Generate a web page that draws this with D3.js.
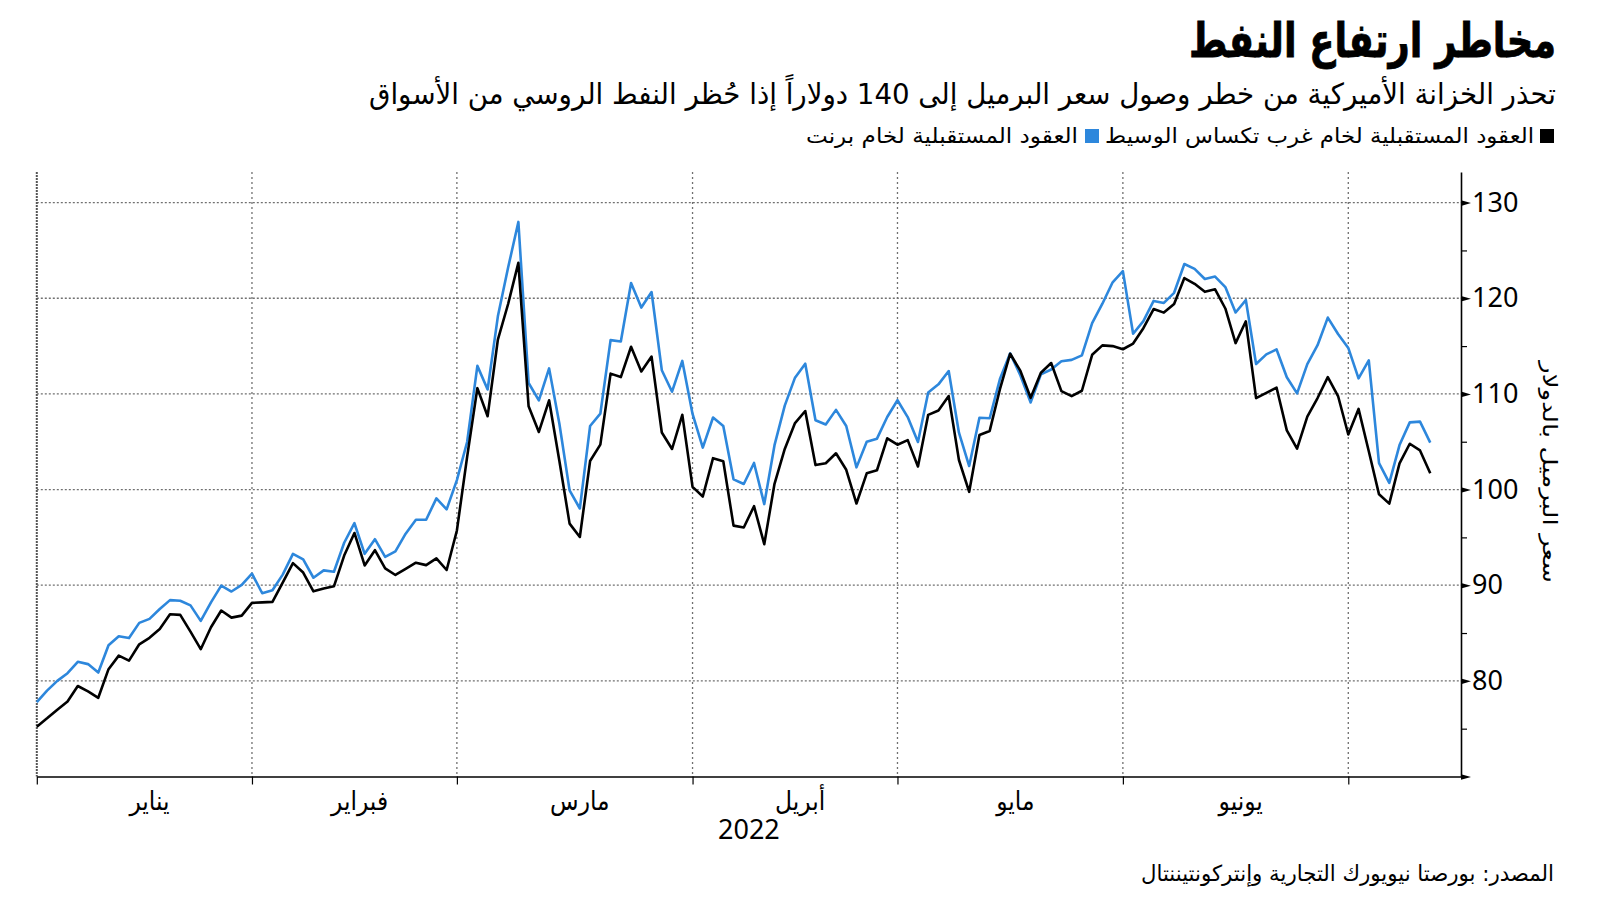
<!DOCTYPE html>
<html>
<head>
<meta charset="utf-8">
<script src="https://cdn.jsdelivr.net/npm/d3@7"></script>
<style>
body { margin: 0; background: #fff; }
svg text { font-family: "DejaVu Sans Condensed", "DejaVu Sans", sans-serif; fill: #000; }
svg .num { font-family: "Noto Sans", "DejaVu Sans", sans-serif; }
</style>
</head>
<body>
<svg id="chart"></svg>
<script>
// trading days (ICE calendar) from 31 Dec 2021 to 12 Jul 2022
var dates = [
  "2021-12-31",
  "2022-01-03","2022-01-04","2022-01-05","2022-01-06","2022-01-07","2022-01-10","2022-01-11","2022-01-12","2022-01-13","2022-01-14",
  "2022-01-17","2022-01-18","2022-01-19","2022-01-20","2022-01-21","2022-01-24","2022-01-25","2022-01-26","2022-01-27","2022-01-28","2022-01-31",
  "2022-02-01","2022-02-02","2022-02-03","2022-02-04","2022-02-07","2022-02-08","2022-02-09","2022-02-10","2022-02-11","2022-02-14",
  "2022-02-15","2022-02-16","2022-02-17","2022-02-18","2022-02-21","2022-02-22","2022-02-23","2022-02-24","2022-02-25","2022-02-28",
  "2022-03-01","2022-03-02","2022-03-03","2022-03-04","2022-03-07","2022-03-08","2022-03-09","2022-03-10","2022-03-11","2022-03-14",
  "2022-03-15","2022-03-16","2022-03-17","2022-03-18","2022-03-21","2022-03-22","2022-03-23","2022-03-24","2022-03-25","2022-03-28",
  "2022-03-29","2022-03-30","2022-03-31",
  "2022-04-01","2022-04-04","2022-04-05","2022-04-06","2022-04-07","2022-04-08","2022-04-11","2022-04-12","2022-04-13","2022-04-14",
  "2022-04-18","2022-04-19","2022-04-20","2022-04-21","2022-04-22","2022-04-25","2022-04-26","2022-04-27","2022-04-28","2022-04-29",
  "2022-05-02","2022-05-03","2022-05-04","2022-05-05","2022-05-06","2022-05-09","2022-05-10","2022-05-11","2022-05-12","2022-05-13",
  "2022-05-16","2022-05-17","2022-05-18","2022-05-19","2022-05-20","2022-05-23","2022-05-24","2022-05-25","2022-05-26","2022-05-27",
  "2022-05-30","2022-05-31",
  "2022-06-01","2022-06-02","2022-06-03","2022-06-06","2022-06-07","2022-06-08","2022-06-09","2022-06-10","2022-06-13","2022-06-14",
  "2022-06-15","2022-06-16","2022-06-17","2022-06-20","2022-06-21","2022-06-22","2022-06-23","2022-06-24","2022-06-27","2022-06-28",
  "2022-06-29","2022-06-30",
  "2022-07-01","2022-07-04","2022-07-05","2022-07-06","2022-07-07","2022-07-08","2022-07-11","2022-07-12"
];

// Brent futures, $/barrel (blue)
var brent = [
  77.78,
  78.98, 80.00, 80.80, 81.99, 81.75, 80.87, 83.72, 84.67, 84.47, 86.06,
  86.48, 87.51, 88.44, 88.38, 87.89, 86.27, 88.20, 89.96, 89.34, 90.03, 91.21,
  89.16, 89.47, 91.11, 93.27, 92.69, 90.78, 91.55, 91.41, 94.44, 96.48,
  93.28, 94.81, 92.97, 93.54, 95.39, 96.84, 96.84, 99.08, 97.93, 100.99,
  104.97, 112.93, 110.46, 118.11, 123.21, 127.98, 111.14, 109.33, 112.67, 106.90,
  99.91, 98.02, 106.64, 107.93, 115.62, 115.48, 121.60, 119.03, 120.65, 112.48,
  110.23, 113.45, 107.91,
  104.39, 107.53, 106.64, 101.07, 100.58, 102.78, 98.48, 104.64, 108.78, 111.70,
  113.16, 107.25, 106.80, 108.33, 106.65, 102.32, 104.99, 105.32, 107.59, 109.34,
  107.58, 104.97, 110.14, 111.00, 112.39, 105.94, 102.46, 107.51, 107.45, 111.55,
  114.24, 111.93, 109.11, 112.04, 112.55, 113.42, 113.56, 114.03, 117.40, 119.43,
  121.67, 122.84,
  116.29, 117.61, 119.72, 119.51, 120.57, 123.58, 123.07, 122.01, 122.27, 121.17,
  118.51, 119.81, 113.12, 114.13, 114.65, 111.74, 110.05, 113.12, 115.09, 117.98,
  116.26, 114.81,
  111.63, 113.50, 102.77, 100.69, 104.65, 107.02, 107.10, 104.90
];

// WTI futures, $/barrel (black)
var wti = [
  75.21,
  76.08, 76.99, 77.85, 79.46, 78.90, 78.23, 81.22, 82.64, 82.12, 83.82,
  84.50, 85.43, 86.96, 86.90, 85.14, 83.31, 85.60, 87.35, 86.61, 86.82, 88.15,
  88.20, 88.26, 90.27, 92.31, 91.32, 89.36, 89.66, 89.88, 93.10, 95.46,
  92.07, 93.66, 91.76, 91.07, 91.70, 92.35, 92.10, 92.81, 91.59, 95.72,
  103.41, 110.60, 107.67, 115.68, 119.40, 123.70, 108.70, 106.02, 109.33, 103.01,
  96.44, 95.04, 102.98, 104.70, 112.12, 111.76, 114.93, 112.34, 113.90, 105.96,
  104.24, 107.82, 100.28,
  99.27, 103.28, 102.96, 96.23, 96.03, 98.26, 94.29, 100.60, 104.25, 106.95,
  108.21, 102.56, 102.75, 103.79, 102.07, 98.54, 101.70, 102.02, 105.36, 104.69,
  105.17, 102.41, 107.81, 108.26, 109.77, 103.09, 99.76, 105.71, 106.13, 110.49,
  114.20, 112.40, 109.59, 112.21, 113.23, 110.29, 109.77, 110.33, 114.09, 115.07,
  115.00, 114.67,
  115.26, 116.87, 118.87, 118.50, 119.41, 122.11, 121.51, 120.67, 120.93, 118.93,
  115.31, 117.59, 109.56, 110.10, 110.65, 106.19, 104.27, 107.62, 109.57, 111.76,
  109.78, 105.76,
  108.43, 104.00, 99.50, 98.53, 102.73, 104.79, 104.09, 101.70
];

var monthNames = ["يناير", "فبراير", "مارس", "أبريل", "مايو", "يونيو"];
var yTicks = [70, 80, 90, 100, 110, 120, 130];
var yMinorTicks = [75, 85, 95, 105, 115, 125];

var title = "مخاطر ارتفاع النفط";
var subtitle = "تحذر الخزانة الأميركية من خطر وصول سعر البرميل إلى 140 دولاراً إذا حُظر النفط الروسي من الأسواق";
var legendWti = "العقود المستقبلية لخام غرب تكساس الوسيط";
var legendBrent = "العقود المستقبلية لخام برنت";
var yTitle = "سعر البرميل بالدولار";
var yearLabel = "2022";
var source = "المصدر: بورصتا نيويورك التجارية وإنتركونتيننتال";

var blue = "#2d87dc";

var width = 1600, height = 901;
var plot = { left: 36.8, right: 1461, top: 172, bottom: 776.5 };

var svg = d3.select("#chart")
    .attr("width", width)
    .attr("height", height);

// scales: x is the trading-day index
var x = d3.scaleLinear().domain([0, 139]).range([plot.left, plot.right]);
var y = d3.scaleLinear().domain([70, 133.2]).range([plot.bottom, plot.top]);

// month ticks sit on the last trading day before each month starts
var monthTicks = [];
for (var m = 1; m <= 7; m++) {
    var last = -1;
    dates.forEach((d, i) => { if (d < "2022-0" + m + "-01") last = i; });
    monthTicks.push(last);
}
// month labels sit in the middle of each month's days
var monthMid = monthNames.map((name, k) => {
    var idx = [];
    dates.forEach((d, i) => { if (d.slice(0, 4) === "2022" && +d.slice(5, 7) === k + 1) idx.push(i); });
    return (idx[0] + idx[idx.length - 1]) / 2;
});

// grid
svg.append("g")
    .selectAll("line")
    .data(yTicks.slice(1))
    .enter().append("line")
    .attr("x1", plot.left).attr("x2", plot.right)
    .attr("y1", d => y(d)).attr("y2", d => y(d))
    .attr("stroke", "#707070").attr("stroke-width", 1.3)
    .attr("stroke-dasharray", "2,2");

svg.append("g")
    .selectAll("line")
    .data(monthTicks.slice(1))
    .enter().append("line")
    .attr("x1", d => x(d)).attr("x2", d => x(d))
    .attr("y1", plot.top).attr("y2", plot.bottom)
    .attr("stroke", "#707070").attr("stroke-width", 1.3)
    .attr("stroke-dasharray", "2,3");

// left edge of the plot
svg.append("line")
    .attr("x1", x(0)).attr("x2", x(0))
    .attr("y1", plot.top).attr("y2", plot.bottom)
    .attr("stroke", "#555").attr("stroke-width", 2)
    .attr("stroke-dasharray", "2,1");

// lines
var line = d3.line().x((d, i) => x(i)).y(d => y(d));

svg.append("path")
    .datum(brent)
    .attr("fill", "none")
    .attr("stroke", blue)
    .attr("stroke-width", 2.6)
    .attr("stroke-linejoin", "round")
    .attr("d", line);

svg.append("path")
    .datum(wti)
    .attr("fill", "none")
    .attr("stroke", "#000")
    .attr("stroke-width", 2.6)
    .attr("stroke-linejoin", "round")
    .attr("d", line);

// x axis
var xAxis = svg.append("g")
    .attr("transform", "translate(0," + plot.bottom + ")")
    .call(d3.axisBottom(x).tickValues(monthTicks).tickSize(8).tickSizeOuter(0).tickFormat(""));
xAxis.select(".domain").attr("stroke", "#000").attr("stroke-width", 1.6);
xAxis.selectAll(".tick line").attr("stroke", "#000").attr("stroke-width", 1.2);

svg.append("g")
    .selectAll("text")
    .data(monthNames)
    .enter().append("text")
    .attr("x", (d, i) => x(monthMid[i]))
    .attr("y", 810)
    .attr("text-anchor", "middle")
    .style("font-size", "26px")
    .text(d => d);

svg.append("text")
    .attr("class", "num")
    .attr("x", (plot.left + plot.right) / 2)
    .attr("y", 839)
    .attr("text-anchor", "middle")
    .style("font-size", "27px")
    .text(yearLabel);

// y axis on the right
var yAxis = svg.append("g")
    .attr("transform", "translate(" + plot.right + ",0)")
    .call(d3.axisRight(y).tickValues(yMinorTicks.concat(yTicks)).tickSize(6).tickSizeOuter(0)
        .tickPadding(12).tickFormat(d => (d % 10 === 0 && d > 70) ? d : ""));
yAxis.select(".domain").attr("stroke", "#000").attr("stroke-width", 1.6);
yAxis.selectAll(".tick line").attr("stroke", "#000").attr("stroke-width", 1.2);
var major = yAxis.selectAll(".tick").filter(d => d % 10 === 0);
major.select("line").remove();
major.append("path").attr("d", "M0,-2.8L10,0L0,2.8Z").attr("fill", "#000");
yAxis.selectAll(".tick text")
    .attr("class", "num")
    .attr("x", 11)
    .style("font-size", "27px")
    .style("font-family", "'Noto Sans', 'DejaVu Sans', sans-serif")
    .attr("fill", "#000");

svg.append("text")
    .attr("transform", "translate(1550,472) rotate(90)")
    .attr("text-anchor", "middle")
    .attr("dy", "0.35em")
    .attr("textLength", 222)
    .attr("lengthAdjust", "spacingAndGlyphs")
    .style("font-size", "20px")
    .text(yTitle);

// title: squeezed horizontally to the reference width
var titleText = svg.append("text")
    .attr("text-anchor", "end")
    .style("font-size", "48px")
    .style("font-weight", "bold")
    .style("stroke", "#000")
    .style("stroke-width", "0.8px")
    .text(title);
var tw = titleText.node().getComputedTextLength();
titleText.attr("transform", "translate(1556,57) scale(" + Math.min(1, 367 / tw) + ",1)");

svg.append("text")
    .attr("x", 1556).attr("y", 104)
    .attr("text-anchor", "end")
    .attr("textLength", 1187)
    .attr("lengthAdjust", "spacingAndGlyphs")
    .style("font-size", "29px")
    .text(subtitle);

// legend
svg.append("rect").attr("x", 1540).attr("y", 129).attr("width", 14).attr("height", 14).attr("fill", "#000");
svg.append("text")
    .attr("x", 1534).attr("y", 143)
    .attr("text-anchor", "end")
    .attr("textLength", 429)
    .attr("lengthAdjust", "spacingAndGlyphs")
    .style("font-size", "21px")
    .text(legendWti);

svg.append("rect").attr("x", 1085).attr("y", 129).attr("width", 14).attr("height", 14).attr("fill", blue);
svg.append("text")
    .attr("x", 1078).attr("y", 143)
    .attr("text-anchor", "end")
    .attr("textLength", 272)
    .attr("lengthAdjust", "spacingAndGlyphs")
    .style("font-size", "21px")
    .text(legendBrent);

// source
svg.append("text")
    .attr("x", 1554).attr("y", 881)
    .attr("text-anchor", "end")
    .attr("textLength", 413)
    .attr("lengthAdjust", "spacingAndGlyphs")
    .style("font-size", "22px")
    .text(source);
</script>
</body>
</html>
